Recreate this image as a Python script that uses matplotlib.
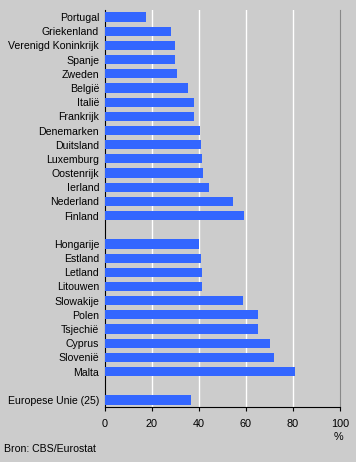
import matplotlib.pyplot as plt
import numpy as np

plt.rcParams['font.family'] = ['Liberation Sans', 'DejaVu Sans']

# Drie groepen: EU-15, nieuwe lidstaten, EU-25
oude_landen = ["Portugal", "Griekenland", "Verenigd Koninkrijk", "Spanje", "Zweden",
               "België", "Italië", "Frankrijk", "Denemarken", "Duitsland",
               "Luxemburg", "Oostenrijk", "Ierland", "Nederland", "Finland"]
oude_waarden = [17.3, 28.2, 29.9, 29.9, 30.8, 35.2, 37.7, 37.7, 40.3, 40.7,
                41.1, 41.6, 44.1, 54.3, 59.0]

nieuwe_landen = ["Hongarije", "Estland", "Letland", "Litouwen", "Slowakije",
                 "Polen", "Tsjechië", "Cyprus", "Slovenië", "Malta"]
nieuwe_waarden = [39.9, 40.7, 41.1, 41.1, 58.6, 65.0, 65.0, 70.1, 71.8, 80.7]

eu_label = ["Europese Unie (25)"]
eu_waarde = [36.5]

xticks = [0, 20, 40, 60, 80, 100]

labels = oude_landen + [""] + nieuwe_landen + [""] + eu_label
waarden = oude_waarden + [np.nan] + nieuwe_waarden + [np.nan] + eu_waarde
pos = np.arange(len(labels))

grijs = "#cccccc"
fig = plt.figure(figsize=(3.56, 4.62), dpi=100, facecolor=grijs)
ax = fig.add_axes([105 / 356, 1 - 407 / 462, 235 / 356, 397 / 462])
ax.set_facecolor(grijs)

ax.barh(pos, waarden, height=0.65, color="#3366ff", zorder=3)

ax.set_xlim(0, 100)
ax.set_ylim(len(labels) - 0.5, -0.5)
ax.set_xticks(xticks)
ax.set_xticklabels([str(t) for t in xticks], fontsize=7.8)
ax.set_yticks(pos)
ax.set_yticklabels(labels, fontsize=7.6)
ax.tick_params(axis="y", length=0, pad=4.3)
ax.tick_params(axis="x", length=3, direction="out", pad=5.5, color="black")

for t in xticks[1:-1]:
    ax.axvline(t, color="white", linewidth=1, zorder=1)

ax.spines["top"].set_visible(False)
ax.spines["right"].set_color("#888888")
ax.spines["left"].set_color("black")
ax.spines["bottom"].set_color("black")

fig.text(338 / 356, 1 - 437 / 462, "%", fontsize=7.8, ha="center", va="center")
fig.text(4 / 356, 1 - 449 / 462, "Bron: CBS/Eurostat", fontsize=7.6, ha="left", va="center")

fig.savefig("out.png", dpi=100, facecolor=grijs)
